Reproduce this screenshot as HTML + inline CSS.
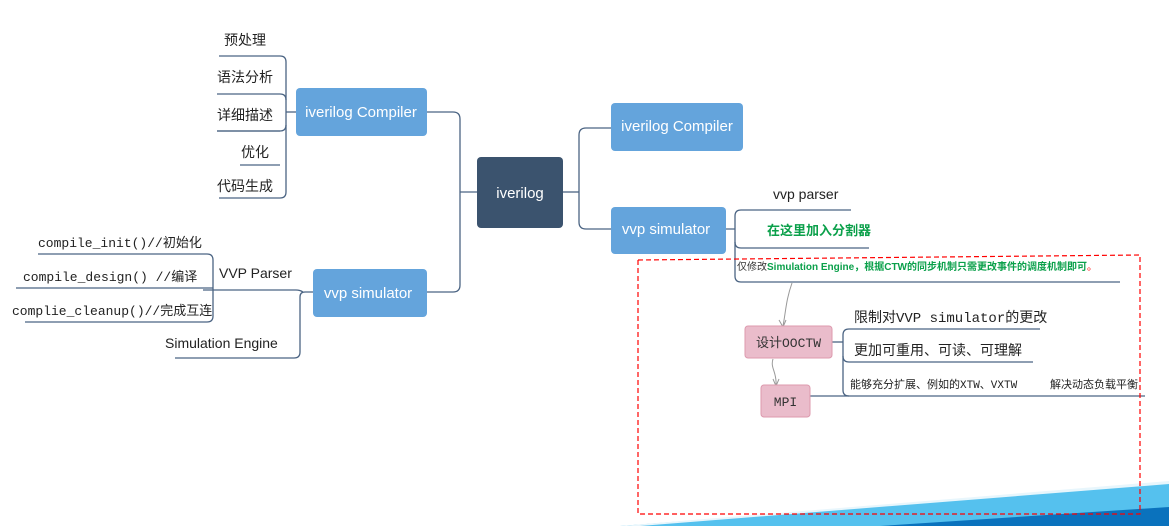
<!DOCTYPE html>
<html><head><meta charset="utf-8"><style>
html,body{margin:0;padding:0;background:#fff;width:1169px;height:526px;overflow:hidden}
svg text{font-family:"Liberation Sans","Noto Sans CJK SC",sans-serif}
svg text.m{font-family:"Liberation Mono","Noto Sans CJK SC",monospace}
</style></head><body>
<svg width="1169" height="526" viewBox="0 0 1169 526" xmlns="http://www.w3.org/2000/svg">
<polygon points="620,526 1169,483 1169,526" fill="#55c1ee"/>
<polygon points="880,526 1169,507 1169,526" fill="#0a72bd"/>
<polygon points="620,526 1169,481 1169,484 640,526" fill="#e8f6fc"/>

<g fill="none" stroke="#4b6483" stroke-width="1.3">
<path d="M460,192 H477"/>
<path d="M427,112 H453 Q460,112 460,119 V285 Q460,292 453,292 H427"/>
<path d="M563,192 H579"/>
<path d="M611,128 H586 Q579,128 579,135 V222 Q579,229 586,229 H611"/>
<path d="M296,112 H286"/>
<path d="M219,56 H280 Q286,56 286,62 V192 Q286,198 280,198 H219"/>
<path d="M217,94 H280 Q286,94 286,100"/>
<path d="M217,131 H280"/>
<path d="M240,165 H280"/>
<path d="M217,131 H280 Q286,131 286,125"/>
<path d="M313,292 H305 Q300,292 300,297 V352 Q300,358 294,358 H175"/>
<path d="M203,290 H296 Q300,290 303,292"/>
<path d="M38,254 H207 Q213,254 213,260 V316 Q213,322 207,322 H25"/>
<path d="M16,288 H213"/>
<path d="M715,229 H735"/>
<path d="M741,210 H851"/>
<path d="M741,210 Q735,210 735,216 V276 Q735,282 741,282 H1120"/>
<path d="M741,248 Q735,248 735,242"/>
<path d="M741,248 H869"/>
<path d="M832,342 H843"/>
<path d="M849,329 H1040"/>
<path d="M849,329 Q843,329 843,335 V390 Q843,396 849,396"/>
<path d="M849,362 H1033"/>
<path d="M849,362 Q843,362 843,356"/>
<path d="M810,396 H1145"/>
</g>
<g fill="none" stroke="#999" stroke-width="1">
<path d="M792,283 C786,300 786,310 783,326"/>
<path d="M773,359 C770,368 777,372 776,385"/>
</g>
<path d="M779,320 L783,327 L786,320" fill="none" stroke="#999"/>
<path d="M773,379 L776,386 L779,379" fill="none" stroke="#999"/>

<path d="M638,260 L1140,255 V514 H638 Z" fill="none" stroke="#f00" stroke-width="1.2" stroke-dasharray="5,3"/>

<rect x="477" y="157" width="86" height="71" rx="4" fill="#3b536e"/>
<text x="520" y="198" fill="#fff" font-size="15" text-anchor="middle">iverilog</text>
<rect x="296" y="88" width="131" height="48" rx="4" fill="#64a4dc"/>
<text x="361" y="117" fill="#fff" font-size="15" text-anchor="middle">iverilog Compiler</text>
<rect x="313" y="269" width="114" height="48" rx="4" fill="#64a4dc"/>
<text x="368" y="298" fill="#fff" font-size="15" text-anchor="middle">vvp simulator</text>
<rect x="611" y="103" width="132" height="48" rx="4" fill="#64a4dc"/>
<text x="677" y="131" fill="#fff" font-size="15" text-anchor="middle">iverilog Compiler</text>
<rect x="611" y="207" width="115" height="47" rx="4" fill="#64a4dc"/>
<text x="666" y="234" fill="#fff" font-size="15" text-anchor="middle">vvp simulator</text>
<rect x="745" y="326" width="87" height="32" rx="3" fill="#eabccb" stroke="#dd9aae"/>
<text x="788.5" y="347" fill="#333" font-size="13" text-anchor="middle" class="m">设计OOCTW</text>
<rect x="761" y="385" width="49" height="32" rx="3" fill="#eabccb" stroke="#dd9aae"/>
<text x="785.5" y="406" fill="#333" font-size="13" text-anchor="middle" class="m">MPI</text>

<g fill="#222" font-size="14">
<text x="224" y="45">预处理</text>
<text x="217" y="82">语法分析</text>
<text x="217" y="120">详细描述</text>
<text x="241" y="157">优化</text>
<text x="217" y="191">代码生成</text>
<text x="219" y="278">VVP Parser</text>
<text x="165" y="348">Simulation Engine</text>
<text x="773" y="199">vvp parser</text>
</g>
<g fill="#222" font-size="13">
<text x="38" y="247" class="m">compile_init()//初始化</text>
<text x="23" y="281" class="m">compile_design() //编译</text>
<text x="12" y="315" class="m">complie_cleanup()//完成互连</text>
</g>
<text x="767" y="235" fill="#0aa04a" font-size="13" font-weight="bold">在这里加入分割器</text>
<text x="737" y="270" font-size="10"><tspan fill="#333">仅修改</tspan><tspan fill="#0aa04a" font-weight="bold">Simulation Engine，根据CTW的同步机制只需更改事件的调度机制即可</tspan><tspan fill="#f00">。</tspan></text>
<g fill="#222">
<text x="854" y="322" font-size="14" class="m">限制对VVP simulator的更改</text>
<text x="854" y="355" font-size="14" class="m">更加可重用、可读、可理解</text>
<text x="850" y="388" font-size="11" class="m">能够充分扩展、例如的XTW、VXTW</text>
<text x="1050" y="388" font-size="11">解决动态负载平衡</text>
</g>
</svg>
</body></html>
